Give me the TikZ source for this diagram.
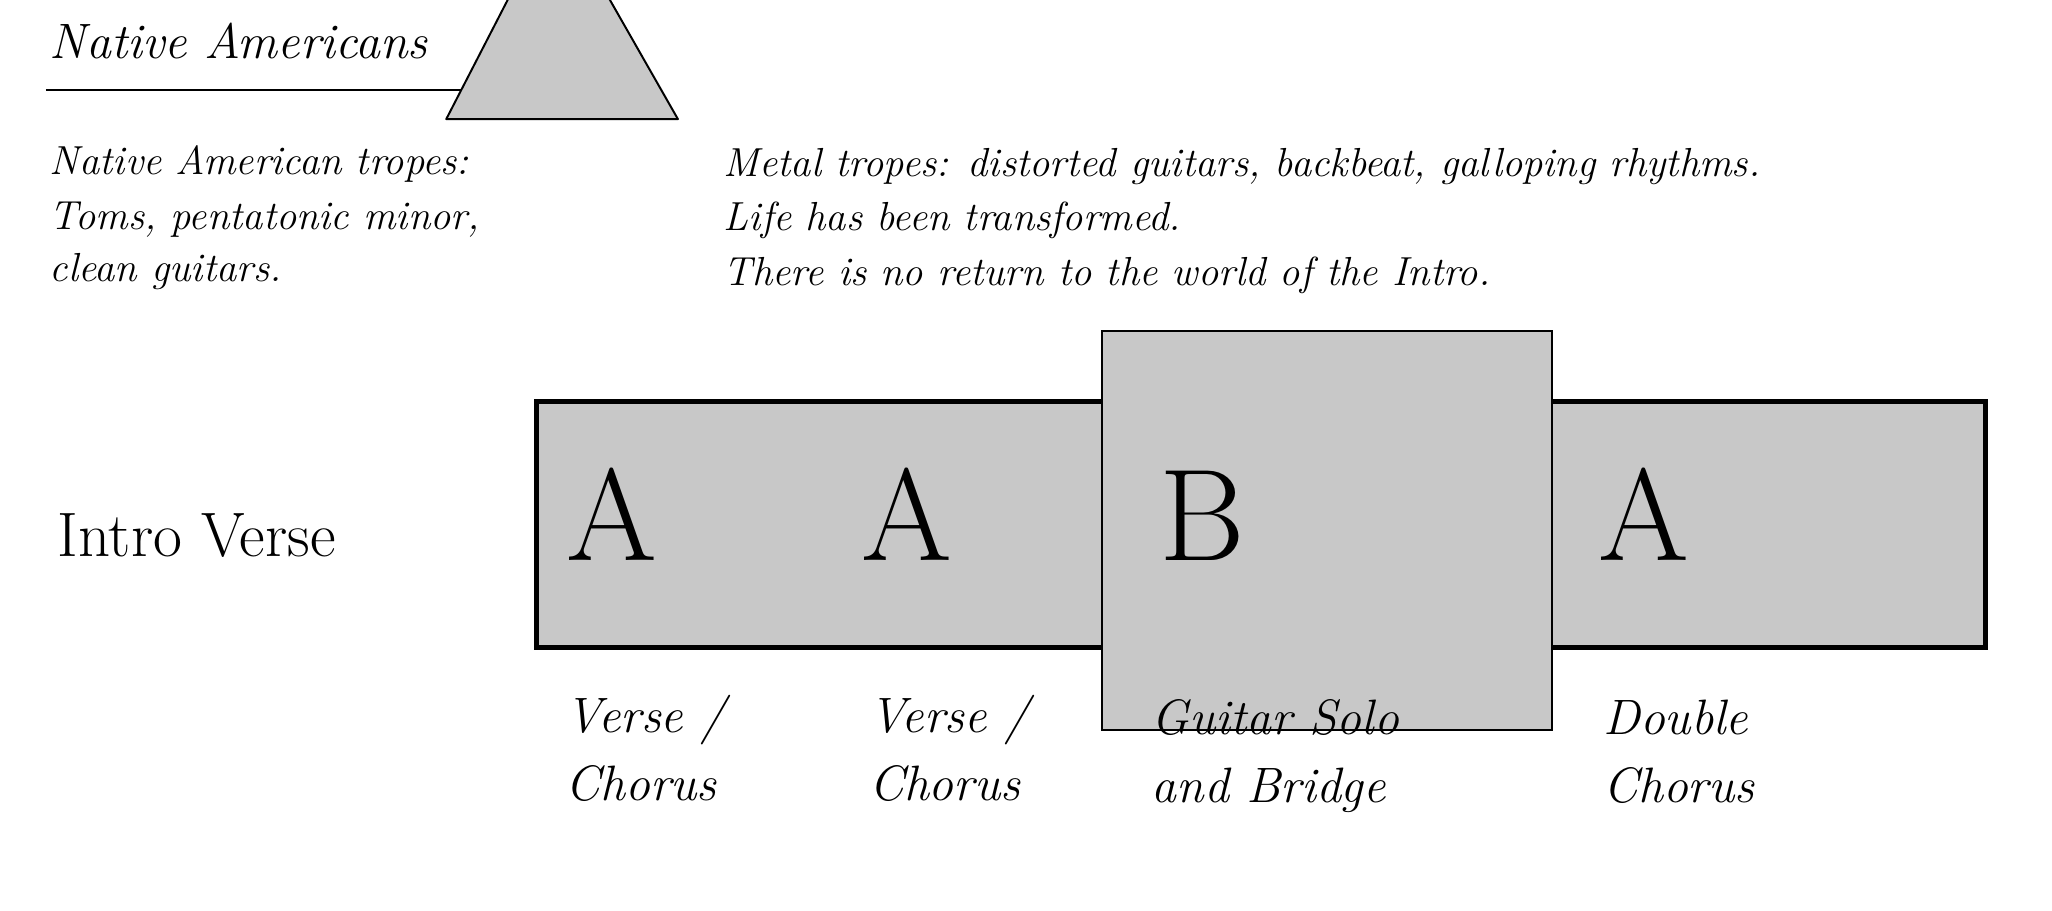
\documentclass[tikz,border=0pt]{standalone}
\begin{document}
\begin{tikzpicture}[x=1pt,y=-1pt,
  itxt/.style={anchor=base west,inner sep=0pt,font=\fontsize{31}{41}\selectfont\itshape},
  lbl/.style={anchor=base west,inner sep=0pt,font=\fontsize{38}{52}\selectfont\itshape,align=left},
  big/.style={anchor=base west,inner sep=0pt,font=\fontsize{100}{100}\selectfont},
  gfill/.style={fill={rgb,255:red,200;green,200;blue,200}}]
\useasboundingbox (0,0) rectangle (1568,696);
\clip (0,0) rectangle (1568,696);
\draw[line width=1.5pt] (35,69) -- (360,69);
\draw[gfill,line width=1.5pt,line join=round] (341,91) -- (425,-72) -- (518,91) -- cycle;
\node[itxt,font=\fontsize{38}{41}\selectfont\itshape] (na) at (38,45) {Native Americans};
\node[itxt] (t1) at (38,133) {Native American tropes:};
\node[itxt] (t2) at (38,175) {Toms, pentatonic minor,};
\node[itxt] (t3) at (38,215) {clean guitars.};
\node[itxt] (m1) at (553,135) {Metal tropes: distorted guitars, backbeat, galloping rhythms.};
\node[itxt] (m2) at (553,176) {Life has been transformed.};
\node[itxt] (m3) at (553,218) {There is no return to the world of the Intro.};
\draw[gfill,line width=4pt] (410,307) rectangle (1517,495);
\draw[gfill,line width=1.5pt] (842,253) rectangle (1186,558);
\node[anchor=base west,inner sep=0pt,font=\fontsize{48}{48}\selectfont] (iv) at (44,425) {Intro Verse};
\node[big] (a1) at (433,428) {A};
\node[big] (a2) at (658,428) {A};
\node[big] (b) at (886,428) {B};
\node[big] (a3) at (1221,428) {A};
\node[lbl] (l1) at (432,612) {Verse /\\Chorus};
\node[lbl] (l2) at (664,612) {Verse /\\Chorus};
\node[lbl] (l3) at (880,613) {Guitar Solo\\and Bridge};
\node[lbl] (l4) at (1225,613) {Double\\Chorus};
\end{tikzpicture}
\end{document}
